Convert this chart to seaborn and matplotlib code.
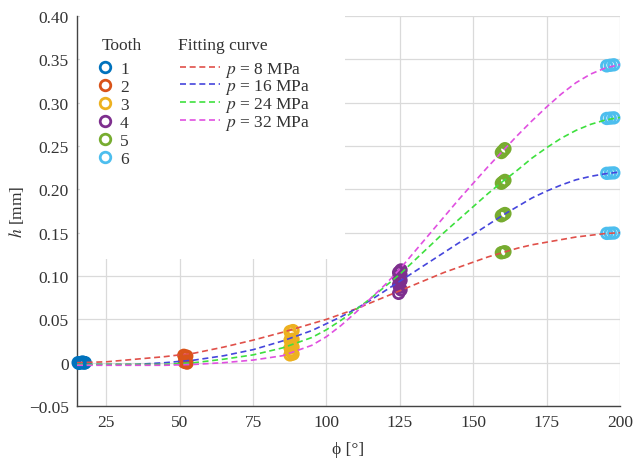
import numpy as np
import pandas as pd
import matplotlib
matplotlib.use('Agg')
import matplotlib.pyplot as plt
from matplotlib.lines import Line2D
from matplotlib.patches import Rectangle
import seaborn as sns

# measured points (angle phi [deg], depth h [mm]) for each tooth
tooth1_phi = [15.4, 16.0, 16.6, 17.2, 17.8, 15.7, 16.9, 17.5]
tooth1_h = [0.000, 0.000, 0.000, 0.000, 0.000, -0.0008, 0.0008, -0.0005]
tooth2_phi = [51.4, 52.4, 51.8, 51.6, 52.5, 52.0, 51.9]
tooth2_h = [0.0085, 0.0075, 0.0060, 0.0005, -0.0005, 0.001, 0.0025]
tooth3_phi = [87.6, 88.6, 88.0, 87.6, 88.6, 88.1, 87.6, 88.6, 88.0, 87.6, 88.6, 88.1]
tooth3_h = [0.036, 0.037, 0.032, 0.026, 0.027, 0.022, 0.017, 0.018, 0.014,
            0.009, 0.010, 0.012]
tooth4_phi = [124.6, 125.4, 125.0, 124.6, 125.4, 125.0, 124.6, 125.4, 125.0, 124.6, 125.4, 125.0]
tooth4_h = [0.080, 0.084, 0.087, 0.090, 0.095, 0.093, 0.098, 0.101, 0.099,
            0.104, 0.107, 0.105]
tooth5_phi = [159.6, 160.2, 160.8, 159.6, 160.2, 160.8, 159.6, 160.2, 160.8, 159.6, 160.2, 160.8]
tooth5_h = [0.1268, 0.1274, 0.1280, 0.1695, 0.1708, 0.1721,
            0.2070, 0.2087, 0.2103, 0.2425, 0.2447, 0.2469]
tooth6_phi = [195.5, 196.7, 197.9, 195.5, 196.7, 197.9, 195.5, 196.7, 197.9, 195.5, 196.7, 197.9]
tooth6_h = [0.1492, 0.1494, 0.1496, 0.2185, 0.2188, 0.2190,
            0.2818, 0.2822, 0.2825, 0.3425, 0.3432, 0.3437]

# fitting curves
curve_phi = [15, 25, 35, 45, 55, 65, 75, 85, 95, 100, 105, 110, 115, 120, 125, 130, 135,
             140, 145, 150, 155, 160, 165, 170, 175, 180, 185, 190, 195, 200]
h_8mpa = [0.000, 0.001, 0.004, 0.007, 0.011, 0.018, 0.026, 0.035, 0.045, 0.050, 0.056,
          0.062, 0.069, 0.076, 0.083, 0.090, 0.097, 0.104, 0.110, 0.116, 0.122, 0.127,
          0.132, 0.136, 0.139, 0.142, 0.145, 0.147, 0.149, 0.150]
h_16mpa = [-0.002, -0.002, -0.002, 0.000, 0.003, 0.008, 0.015, 0.025, 0.037, 0.045, 0.053,
           0.062, 0.072, 0.083, 0.094, 0.105, 0.116, 0.127, 0.138, 0.148, 0.159, 0.170,
           0.180, 0.190, 0.198, 0.205, 0.211, 0.215, 0.218, 0.220]
h_24mpa = [-0.002, -0.002, -0.002, -0.002, 0.000, 0.004, 0.009, 0.017, 0.029, 0.038, 0.049,
           0.061, 0.074, 0.088, 0.102, 0.118, 0.134, 0.150, 0.165, 0.180, 0.195, 0.209,
           0.222, 0.236, 0.248, 0.259, 0.268, 0.275, 0.280, 0.283]
h_32mpa = [-0.003, -0.003, -0.003, -0.003, -0.002, 0.000, 0.003, 0.008, 0.020, 0.030, 0.043,
           0.058, 0.074, 0.090, 0.108, 0.128, 0.148, 0.168, 0.188, 0.207, 0.226, 0.244,
           0.262, 0.279, 0.295, 0.310, 0.323, 0.333, 0.340, 0.344]

tooth_labels = ['1', '2', '3', '4', '5', '6']
tooth_colors = ['#0072BD', '#D95319', '#EDB120', '#7E2F8E', '#77AC30', '#4DBEEE']
pressure_labels = ['$p$ = 8 MPa', '$p$ = 16 MPa', '$p$ = 24 MPa', '$p$ = 32 MPa']
curve_colors = ['#e0504a', '#4646dc', '#3ee03e', '#e050e0']

yticks = [-0.05, 0, 0.05, 0.10, 0.15, 0.20, 0.25, 0.30, 0.35, 0.40]
ytick_labels = ['\u22120.05', '0', '0.05', '0.10', '0.15', '0.20', '0.25', '0.30', '0.35', '0.40']
xticks = [25, 50, 75, 100, 125, 150, 175, 200]

# tidy tables for seaborn
tooth_phi = [tooth1_phi, tooth2_phi, tooth3_phi, tooth4_phi, tooth5_phi, tooth6_phi]
tooth_h = [tooth1_h, tooth2_h, tooth3_h, tooth4_h, tooth5_h, tooth6_h]
points = pd.DataFrame({
    'phi': np.concatenate(tooth_phi),
    'h': np.concatenate(tooth_h),
    'tooth': np.concatenate([[lab] * len(p) for lab, p in zip(tooth_labels, tooth_phi)]),
})
curve_h = [h_8mpa, h_16mpa, h_24mpa, h_32mpa]
curves = pd.DataFrame({
    'phi': np.tile(curve_phi, len(curve_h)),
    'h': np.concatenate(curve_h),
    'p': np.repeat(pressure_labels, len(curve_phi)),
})

sns.set_style('white')
plt.rcParams['font.family'] = ['Liberation Serif', 'DejaVu Serif']
plt.rcParams['mathtext.fontset'] = 'stix'
text_color = '#333333'

fig = plt.figure(figsize=(6.33, 4.6), dpi=100)
ax = fig.add_axes([0.1216, 0.1152, 0.8578, 0.8478])

# teeth: open circles
sns.scatterplot(data=points, x='phi', y='h', hue='tooth', palette=tooth_colors,
                s=58, linewidth=2.0, legend=False, ax=ax, zorder=3, clip_on=False)
coll = ax.collections[-1]
coll.set_edgecolors(coll.get_facecolors())
coll.set_facecolors('none')

# fitting curves: dashed lines on top
sns.lineplot(data=curves, x='phi', y='h', hue='p', palette=curve_colors,
             style='p', dashes={lab: (3.6, 2.2) for lab in pressure_labels},
             estimator=None, sort=False, lw=1.2, legend=False, ax=ax, zorder=4)

ax.set_xlim(15, 200)
ax.set_ylim(-0.05, 0.40)
ax.set_xticks(xticks)
ax.set_yticks(yticks)
ax.set_yticklabels(ytick_labels)
ax.grid(True, color='#dadada', lw=0.9)
ax.set_axisbelow(True)
for s in ['top', 'right']:
    ax.spines[s].set_visible(False)
for s in ['left', 'bottom']:
    ax.spines[s].set_color('#444444')
    ax.spines[s].set_linewidth(1.0)
ax.tick_params(direction='in', length=3.5, width=1.0, color='#444444',
               labelsize=12.5, labelcolor=text_color, pad=6)
ax.set_xlabel('\u03d5 [\u00b0]', fontsize=12.5, color=text_color, labelpad=8)
ax.set_ylabel('$h$ [mm]', fontsize=12.5, color=text_color, labelpad=2)

# white block behind the legend hides the grid
ax.add_patch(Rectangle((0.006, 0.377), 0.488, 0.623, transform=ax.transAxes,
                       facecolor='white', edgecolor='none', zorder=1))

tooth_handles = [Line2D([], [], ls='', marker='o', ms=7.6, mfc='none', mec=c, mew=2.0)
                 for c in tooth_colors]
leg1 = ax.legend(tooth_handles, tooth_labels, loc='upper left',
                 bbox_to_anchor=(0.0395, 0.884), frameon=False, fontsize=12.5,
                 handlelength=0.8, handletextpad=0.45, labelspacing=0.1,
                 borderpad=0, borderaxespad=0, labelcolor=text_color)
ax.add_artist(leg1)
curve_handles = [Line2D([], [], color=c, lw=1.2, ls=(0, (3.6, 2.2))) for c in curve_colors]
ax.legend(curve_handles, pressure_labels, loc='upper left',
          bbox_to_anchor=(0.190, 0.888), frameon=False, fontsize=12.5,
          handlelength=2.3, handletextpad=0.3, labelspacing=-0.07,
          borderpad=0, borderaxespad=0, labelcolor=text_color)

ax.text(0.046, 0.915, 'Tooth', transform=ax.transAxes, fontsize=12.5,
        color=text_color, va='baseline')
ax.text(0.186, 0.915, 'Fitting curve', transform=ax.transAxes, fontsize=12.5,
        color=text_color, va='baseline')

fig.savefig('out.png', dpi=100)
